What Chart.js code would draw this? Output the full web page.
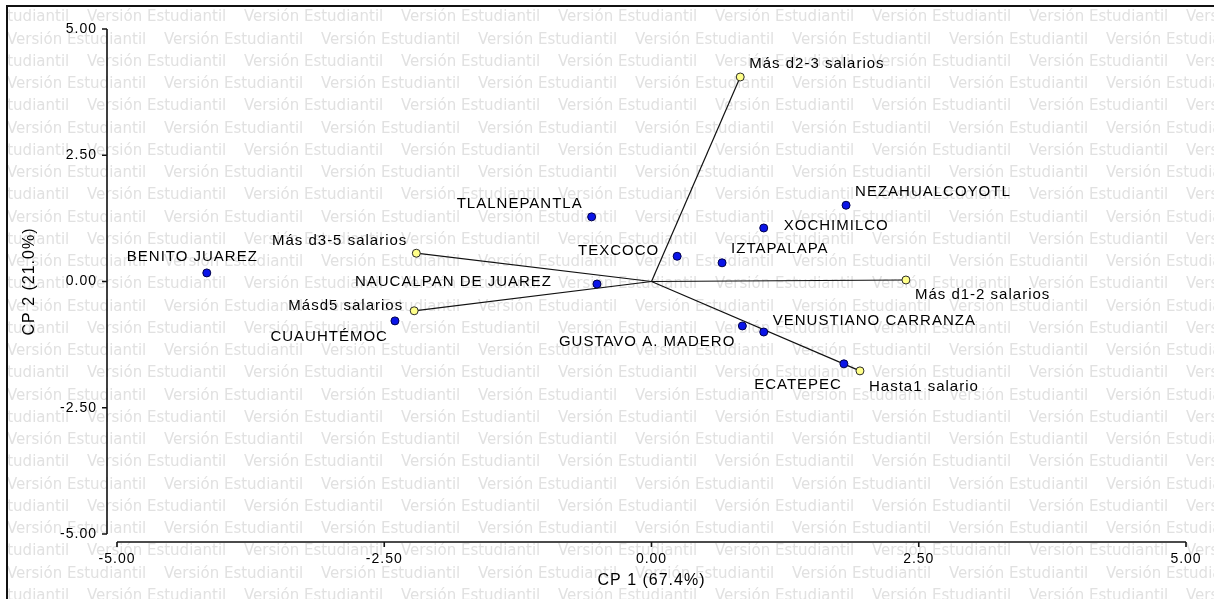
<!DOCTYPE html>
<html>
<head>
    <meta charset="UTF-8">
    <title>Biplot CP1 / CP2</title>
    <script src="https://cdn.jsdelivr.net/npm/chart.js"></script>
    <style>
        html, body { margin: 0; padding: 0; background: #ffffff; }
        .chart-container { position: relative; width: 1214px; height: 599px; }
    </style>
</head>
<body>
<div class="chart-container">
    <canvas id="biplot"></canvas>
</div>

<script>
    // Municipios (puntos azules)
    const municipios = ['BENITO JUAREZ', 'TLALNEPANTLA', 'NAUCALPAN DE JUAREZ', 'TEXCOCO', 'IZTAPALAPA',
        'XOCHIMILCO', 'NEZAHUALCOYOTL', 'VENUSTIANO CARRANZA', 'GUSTAVO A. MADERO', 'ECATEPEC', 'CUAUHTÉMOC'];
    const cp1Mun = [-4.16, -0.56, -0.51, 0.24, 0.66, 1.05, 1.82, 1.05, 0.85, 1.80, -2.40];
    const cp2Mun = [0.17, 1.28, -0.05, 0.50, 0.37, 1.06, 1.51, -1.00, -0.88, -1.63, -0.78];

    // Variables (vectores amarillos)
    const salarios = ['Más d2-3 salarios', 'Más d3-5 salarios', 'Más d1-2 salarios', 'Másd5 salarios', 'Hasta1 salario'];
    const cp1Sal = [0.83, -2.20, 2.38, -2.22, 1.95];
    const cp2Sal = [4.05, 0.56, 0.03, -0.58, -1.77];

    const ticksX = [-5, -2.5, 0, 2.5, 5];
    const ticksY = [-5, -2.5, 0, 2.5, 5];
    const titleX = 'CP 1 (67.4%)';
    const titleY = 'CP 2 (21.0%)';

    // label placement: [align, dx, dy] relative to the point
    const labelPosMun = [['left', -80, -16], ['right', -9, -13], ['right', -45, -2], ['right', -18, -5],
        ['left', 9, -14], ['left', 20, -2], ['left', 9, -13], ['left', 9, -11], ['right', -7, 16],
        ['right', -2, 21], ['right', -7, 16]];
    const labelPosSal = [['left', 9, -13], ['right', -9, -12], ['left', 9, 15], ['right', -11, -5], ['left', 9, 16]];

    const FONT = '"Liberation Sans", Arial, sans-serif';

    const munPoints = cp1Mun.map((x, i) => ({x: x, y: cp2Mun[i]}));
    const salPoints = cp1Sal.map((x, i) => ({x: x, y: cp2Sal[i]}));

    const datasets = [
        {
            label: 'Municipios',
            data: munPoints,
            backgroundColor: '#0a14e8',
            borderColor: '#00004a',
            borderWidth: 1,
            pointRadius: 4,
            order: 0
        },
        {
            label: 'Salarios',
            data: salPoints,
            backgroundColor: '#ffff8a',
            borderColor: '#2a2a2a',
            borderWidth: 1,
            pointRadius: 4,
            order: 1
        }
    ];
    // vectors from the origin
    salPoints.forEach((p, i) => {
        datasets.push({
            label: salarios[i],
            data: [{x: 0, y: 0}, p],
            showLine: true,
            borderColor: '#111111',
            borderWidth: 1.2,
            pointRadius: 0,
            order: 2
        });
    });

    // watermark + frame + letter spacing
    const backdrop = {
        id: 'backdrop',
        beforeDraw(chart) {
            const ctx = chart.ctx;
            ctx.save();
            ctx.beginPath();
            ctx.rect(8, 7, chart.width, chart.height);
            ctx.clip();
            ctx.font = '15px "DejaVu Sans"';
            ctx.fillStyle = '#e1e1e1';
            ctx.textBaseline = 'middle';
            ctx.textAlign = 'left';
            for (let i = 0; i < 27; i++) {
                const y = 17.5 + i * 22.25;
                for (let x = (i % 2 === 0 ? -70 : -150); x < chart.width; x += 157) {
                    ctx.fillText('Versión Estudiantil', x, y);
                }
            }
            ctx.restore();

            ctx.save();
            ctx.strokeStyle = '#111111';
            ctx.lineWidth = 2;
            ctx.beginPath();
            ctx.moveTo(7, chart.height);
            ctx.lineTo(7, 6);
            ctx.lineTo(chart.width, 6);
            ctx.stroke();
            ctx.restore();

            ctx.letterSpacing = '1px';
        },
        beforeDatasetsDraw(chart) {
            // offset axis lines with outward ticks
            const ctx = chart.ctx;
            const xs = chart.scales.x, ys = chart.scales.y;
            const area = chart.chartArea;
            const ax = area.left - 10;
            const ay = area.bottom + 8;
            ctx.save();
            ctx.strokeStyle = '#111111';
            ctx.lineWidth = 1.6;
            ctx.beginPath();
            ctx.moveTo(ax, ys.getPixelForValue(ticksY[ticksY.length - 1]));
            ctx.lineTo(ax, ys.getPixelForValue(ticksY[0]));
            ticksY.forEach(v => {
                const p = ys.getPixelForValue(v);
                ctx.moveTo(ax - 5, p);
                ctx.lineTo(ax, p);
            });
            ctx.moveTo(xs.getPixelForValue(ticksX[0]), ay);
            ctx.lineTo(xs.getPixelForValue(ticksX[ticksX.length - 1]), ay);
            ticksX.forEach(v => {
                const p = xs.getPixelForValue(v);
                ctx.moveTo(p, ay);
                ctx.lineTo(p, ay + 5);
            });
            ctx.stroke();
            ctx.restore();
        },
        afterDatasetsDraw(chart) {
            const ctx = chart.ctx;
            ctx.save();
            ctx.font = '15px ' + FONT;
            ctx.fillStyle = '#000000';
            ctx.textBaseline = 'middle';
            const put = (meta, names, pos) => {
                meta.data.forEach((el, i) => {
                    ctx.textAlign = pos[i][0];
                    ctx.fillText(names[i], el.x + pos[i][1], el.y + pos[i][2]);
                });
            };
            put(chart.getDatasetMeta(0), municipios, labelPosMun);
            put(chart.getDatasetMeta(1), salarios, labelPosSal);
            ctx.restore();
        }
    };

    new Chart(document.getElementById('biplot'), {
        type: 'scatter',
        data: { datasets: datasets },
        options: {
            responsive: true,
            maintainAspectRatio: false,
            animation: false,
            layout: { padding: { left: 7, top: 29, right: 28, bottom: 0 } },
            plugins: {
                legend: { display: false },
                tooltip: { enabled: false }
            },
            scales: {
                x: {
                    type: 'linear',
                    min: -5,
                    max: 5,
                    afterBuildTicks: s => { s.ticks = ticksX.map(v => ({value: v})); },
                    afterFit: s => { s.height = 65; s.paddingLeft = 0; s.paddingRight = 0; },
                    grid: { display: false, drawTicks: false },
                    border: { display: false },
                    ticks: {
                        padding: 17,
                        maxRotation: 0,
                        color: '#000000',
                        font: { family: FONT, size: 14 },
                        callback: v => v.toFixed(2)
                    },
                    title: {
                        display: true,
                        text: titleX,
                        color: '#000000',
                        font: { family: FONT, size: 16 },
                        padding: { top: 0, bottom: 9 }
                    }
                },
                y: {
                    type: 'linear',
                    min: -5,
                    max: 5,
                    afterBuildTicks: s => { s.ticks = ticksY.map(v => ({value: v})); },
                    afterFit: s => { s.width = 110; s.paddingTop = 0; s.paddingBottom = 0; },
                    grid: { display: false, drawTicks: false },
                    border: { display: false },
                    ticks: {
                        padding: 20,
                        color: '#000000',
                        font: { family: FONT, size: 14 },
                        callback: v => v.toFixed(2)
                    },
                    title: {
                        display: true,
                        text: titleY,
                        color: '#000000',
                        font: { family: FONT, size: 16 },
                        padding: { top: 13, bottom: 0 }
                    }
                }
            }
        },
        plugins: [backdrop]
    });
</script>
</body>
</html>
